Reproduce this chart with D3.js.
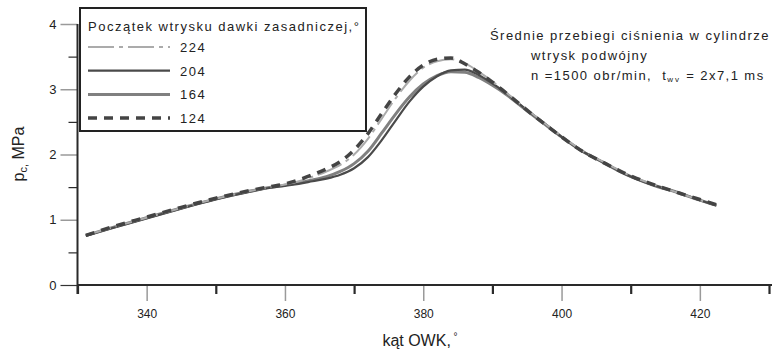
<!DOCTYPE html>
<html>
<head>
<meta charset="utf-8">
<script src="https://cdn.jsdelivr.net/npm/d3@7"></script>
<style>
  body { margin: 0; background: #fff; }
  svg { font-family: "Liberation Sans", Arial, sans-serif; display: block; }
  text { white-space: pre; }
</style>
</head>
<body>
<div id="container"></div>
<script>
// Dane: kąt OWK [°] i ciśnienie w cylindrze [MPa]
const angles = [331.2, 335, 340, 345, 350, 355, 358, 360, 362, 364, 366, 368, 370, 372, 374, 376, 378, 380,
                382, 384, 386, 388, 390, 392, 395, 398, 400, 403, 406, 409, 413, 417, 420, 422.4];
const p224 = [0.76, 0.88, 1.03, 1.18, 1.32, 1.44, 1.50, 1.54, 1.59, 1.66, 1.74, 1.84, 2.00, 2.24, 2.55, 2.86, 3.13, 3.33,
              3.43, 3.46, 3.40, 3.27, 3.12, 2.95, 2.69, 2.44, 2.28, 2.06, 1.89, 1.72, 1.55, 1.41, 1.30, 1.23];
const p204 = [0.75, 0.87, 1.02, 1.17, 1.31, 1.43, 1.49, 1.52, 1.55, 1.59, 1.63, 1.69, 1.79, 1.96, 2.22, 2.52, 2.81, 3.04,
              3.20, 3.29, 3.30, 3.22, 3.09, 2.94, 2.68, 2.44, 2.27, 2.05, 1.88, 1.71, 1.54, 1.41, 1.30, 1.22];
const p164 = [0.76, 0.88, 1.03, 1.18, 1.32, 1.44, 1.50, 1.53, 1.57, 1.61, 1.66, 1.74, 1.86, 2.05, 2.33, 2.62, 2.88, 3.08,
              3.21, 3.27, 3.26, 3.18, 3.06, 2.92, 2.67, 2.43, 2.27, 2.05, 1.88, 1.71, 1.54, 1.41, 1.30, 1.22];
const p124 = [0.76, 0.89, 1.04, 1.19, 1.33, 1.45, 1.51, 1.55, 1.61, 1.69, 1.78, 1.89, 2.07, 2.32, 2.63, 2.93, 3.19, 3.37,
              3.46, 3.48, 3.39, 3.26, 3.11, 2.94, 2.68, 2.43, 2.27, 2.05, 1.88, 1.72, 1.55, 1.41, 1.31, 1.23];

const seriesNames = ['224', '204', '164', '124'];
const xMajorTicks = [340, 360, 380, 400, 420];
const xMinorTicks = [330, 350, 370, 390, 410, 430];
const yMajorTicks = [1, 2, 3, 4];
const yMinorTicks = [0.5, 1.5, 2.5, 3.5];

const WIDTH = 774;
const HEIGHT = 356;

// style każdej serii (kolejność jak w legendzie)
const styles = {
  '224': { stroke: '#ababab', width: 2, dash: '26,5,4,5' },
  '204': { stroke: '#4a4a4a', width: 2.2, dash: null },
  '164': { stroke: '#808080', width: 3, dash: null },
  '124': { stroke: '#444', width: 3.5, dash: '9,7' }
};
const values = { '224': p224, '204': p204, '164': p164, '124': p124 };

const svg = d3.select('#container')
              .append('svg')
                .attr('width', WIDTH)
                .attr('height', HEIGHT);

const x = d3.scaleLinear().domain([330, 430]).range([77.5, 769]);
const y = d3.scaleLinear().domain([0, 4]).range([285, 24]);

// osie - długie szare podziałki z opisem
const xMajor = svg.append('g')
  .attr('transform', `translate(0,${y(0)})`)
  .call(d3.axisBottom(x).tickValues(xMajorTicks).tickSize(16).tickPadding(8.5).tickFormat(d3.format('d')));
xMajor.select('.domain').remove();
xMajor.selectAll('line').attr('stroke', '#9a9a9a').attr('stroke-width', 1.5);
xMajor.selectAll('text').attr('fill', '#222').attr('font-size', 12);

const xMinor = svg.append('g')
  .attr('transform', `translate(0,${y(0)})`)
  .call(d3.axisBottom(x).tickValues(xMinorTicks).tickSize(9).tickFormat(''));
xMinor.select('.domain').remove();
xMinor.selectAll('line').attr('stroke', '#2a2a2a').attr('stroke-width', 2.2);

const yMajor = svg.append('g')
  .attr('transform', `translate(${x(330)},0)`)
  .call(d3.axisLeft(y).tickValues(yMajorTicks).tickSize(17).tickPadding(4).tickFormat(d3.format('d')));
yMajor.select('.domain').remove();
yMajor.selectAll('line').attr('stroke', '#9a9a9a').attr('stroke-width', 1.5);
yMajor.selectAll('text').attr('fill', '#222').attr('font-size', 13);

const yMinor = svg.append('g')
  .attr('transform', `translate(${x(330)},0)`)
  .call(d3.axisLeft(y).tickValues(yMinorTicks).tickSize(9).tickFormat(''));
yMinor.select('.domain').remove();
yMinor.selectAll('line').attr('stroke', '#2a2a2a').attr('stroke-width', 1.2);

// zero osobno - ciemna podziałka
const yZero = svg.append('g')
  .attr('transform', `translate(${x(330)},0)`)
  .call(d3.axisLeft(y).tickValues([0]).tickSize(17).tickPadding(4).tickFormat(d3.format('d')));
yZero.select('.domain').remove();
yZero.selectAll('line').attr('stroke', '#333').attr('stroke-width', 1.2);
yZero.selectAll('text').attr('fill', '#222').attr('font-size', 13);

// linie osi
svg.append('line')
   .attr('x1', x(330)).attr('x2', 772)
   .attr('y1', y(0)).attr('y2', y(0))
   .attr('stroke', '#2a2a2a').attr('stroke-width', 2);
svg.append('line')
   .attr('x1', x(330)).attr('x2', x(330))
   .attr('y1', y(4)).attr('y2', y(0) + 9)
   .attr('stroke', '#2a2a2a').attr('stroke-width', 2);

// krzywe
const line = d3.line()
  .x(d => x(d[0]))
  .y(d => y(d[1]))
  .curve(d3.curveMonotoneX);

['164', '204', '224', '124'].forEach(name => {
  const s = styles[name];
  svg.append('path')
     .datum(angles.map((a, i) => [a, values[name][i]]))
     .attr('fill', 'none')
     .attr('stroke', s.stroke)
     .attr('stroke-width', s.width)
     .attr('stroke-dasharray', s.dash)
     .attr('d', line);
});

// legenda
const legend = svg.append('g').attr('transform', 'translate(80,8)');
legend.append('rect')
      .attr('width', 286).attr('height', 123)
      .attr('fill', '#fff')
      .attr('stroke', '#222').attr('stroke-width', 2);
legend.append('text')
      .attr('x', 8).attr('y', 23)
      .attr('font-size', 13)
      .attr('letter-spacing', 1.5)
      .attr('fill', '#222')
      .text('Początek wtrysku dawki zasadniczej,°');

const items = legend.selectAll('.item')
  .data(seriesNames)
  .join('g')
    .attr('class', 'item')
    .attr('transform', (d, i) => `translate(8,${39 + i * 23.7})`);
items.append('line')
     .attr('x1', 0).attr('x2', 82)
     .attr('stroke', d => styles[d].stroke)
     .attr('stroke-width', d => styles[d].width)
     .attr('stroke-dasharray', d => styles[d].dash);
items.append('text')
     .attr('x', 92).attr('y', 5)
     .attr('font-size', 13)
     .attr('letter-spacing', 1.5)
     .attr('fill', '#222')
     .text(d => d);

// opis w prawym górnym rogu
const note = svg.append('g').attr('fill', '#222').attr('font-size', 13).attr('letter-spacing', 1.45);
note.append('text').attr('x', 490).attr('y', 40).text('Średnie przebiegi ciśnienia w cylindrze');
note.append('text').attr('x', 531).attr('y', 60).text('wtrysk podwójny');
const nt = note.append('text').attr('x', 531).attr('y', 80);
nt.append('tspan').text('n =1500 obr/min,  t');
nt.append('tspan').attr('font-size', 8).attr('dy', 2).attr('letter-spacing', 2).text('wv');
nt.append('tspan').attr('dy', -2).text(' = 2x7,1 ms');

// tytuły osi
const yt = svg.append('text')
  .attr('transform', 'translate(24,154) rotate(-90)')
  .attr('text-anchor', 'middle')
  .attr('font-size', 16)
  .attr('fill', '#222');
yt.append('tspan').text('p');
yt.append('tspan').attr('font-size', 11).attr('dy', 3).text('c,');
yt.append('tspan').attr('dy', -3).text(' MPa');

const xt = svg.append('text')
  .attr('x', 420).attr('y', 346)
  .attr('text-anchor', 'middle')
  .attr('font-size', 16)
  .attr('fill', '#222');
xt.append('tspan').text('kąt OWK,');
xt.append('tspan').attr('font-size', 10).attr('dy', -6).text(' °');
</script>
</body>
</html>
